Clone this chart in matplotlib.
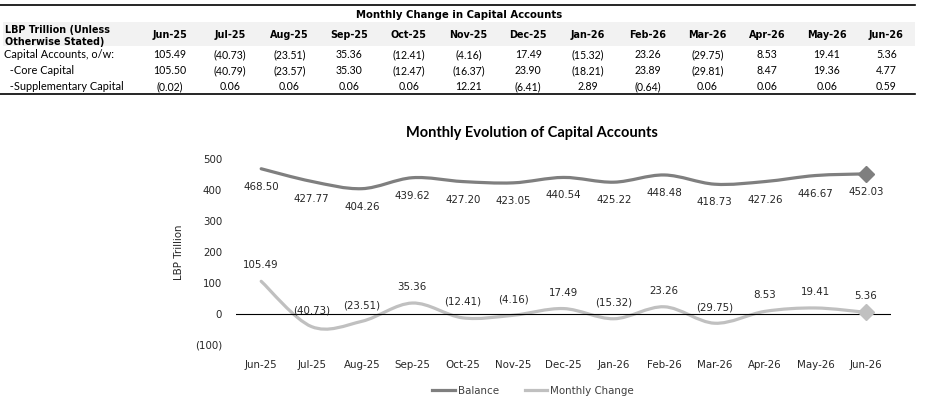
import matplotlib.pyplot as plt
import numpy as np
from matplotlib.path import Path
from matplotlib.patches import PathPatch, Rectangle
from matplotlib.lines import Line2D

months = ["Jun-25", "Jul-25", "Aug-25", "Sep-25", "Oct-25", "Nov-25", "Dec-25",
          "Jan-26", "Feb-26", "Mar-26", "Apr-26", "May-26", "Jun-26"]
balance = [468.50, 427.77, 404.26, 439.62, 427.20, 423.05, 440.54,
           425.22, 448.48, 418.73, 427.26, 446.67, 452.03]
monthly_change = [105.49, -40.73, -23.51, 35.36, -12.41, -4.16, 17.49,
                  -15.32, 23.26, -29.75, 8.53, 19.41, 5.36]
core_capital = [105.50, -40.79, -23.57, 35.30, -12.47, -16.37, 23.90,
                -18.21, 23.89, -29.81, 8.47, 19.36, 4.77]
supplementary = [-0.02, 0.06, 0.06, 0.06, 0.06, 12.21, -6.41,
                 2.89, -0.64, 0.06, 0.06, 0.06, 0.59]

DARK = "#7f7f7f"
LIGHT = "#c0c0c0"
BODY = "Lato"
HEAD = "DejaVu Sans"


def fmt(v):
    return f"({abs(v):.2f})" if v < 0 else f"{v:.2f}"


def smooth_path(xs, ys):
    # excel-style smoothed line: catmull-rom turned into cubic bezier segments
    pts = np.column_stack([xs, ys])
    ext = np.vstack([pts[0], pts, pts[-1]])
    verts = [tuple(pts[0])]
    codes = [Path.MOVETO]
    for i in range(len(pts) - 1):
        p0, p1, p2, p3 = ext[i], ext[i + 1], ext[i + 2], ext[i + 3]
        c1 = p1 + (p2 - p0) / 6
        c2 = p2 - (p3 - p1) / 6
        verts += [tuple(c1), tuple(c2), tuple(p2)]
        codes += [Path.CURVE4] * 3
    return Path(verts, codes)


fig = plt.figure(figsize=(9.4, 4.08), dpi=100)
W, H = 940, 408


def fx(px):
    return px / W


def fy(py):
    return 1 - py / H


# ---- table ----
fig.add_artist(Line2D([fx(0), fx(915)], [fy(5), fy(5)], color="black", lw=1.2))
fig.add_artist(Rectangle((fx(3), fy(46)), fx(912), 24 / H, color="#f2f2f2", lw=0, zorder=0))
fig.text(fx(459), fy(15), "Monthly Change in Capital Accounts", ha="center", va="center",
         fontsize=7.3, fontweight="bold", family=HEAD)
fig.text(fx(5), fy(30), "LBP Trillion (Unless", ha="left", va="center",
         fontsize=6.9, fontweight="bold", family=HEAD)
fig.text(fx(5), fy(42), "Otherwise Stated)", ha="left", va="center",
         fontsize=6.9, fontweight="bold", family=HEAD)

col_x = [170 + i * 59.7 for i in range(len(months))]
for cx, m in zip(col_x, months):
    fig.text(fx(cx), fy(35), m, ha="center", va="center",
             fontsize=6.9, fontweight="bold", family=HEAD)

rows = [("Capital Accounts, o/w:", 4, monthly_change, 55),
        ("  -Core Capital", 4, core_capital, 71),
        ("  -Supplementary Capital", 4, supplementary, 87)]
for label, lx, vals, ry in rows:
    fig.text(fx(lx), fy(ry), label, ha="left", va="center", fontsize=7.9, family=BODY)
    for cx, v in zip(col_x, vals):
        fig.text(fx(cx), fy(ry), fmt(v), ha="center", va="center", fontsize=7.6, family=BODY)
fig.add_artist(Line2D([fx(0), fx(915)], [fy(94), fy(94)], color="black", lw=1.2))

# ---- chart ----
ax = fig.add_axes([fx(236), fy(345), (891 - 236) / W, (345 - 159) / H])
x = np.arange(len(months))
ax.set_xlim(-0.5, len(months) - 0.5)
ax.set_ylim(-100, 500)

ax.add_patch(PathPatch(smooth_path(x, balance), fill=False, edgecolor=DARK, lw=2.3,
                       capstyle="round", joinstyle="round"))
ax.add_patch(PathPatch(smooth_path(x, monthly_change), fill=False, edgecolor=LIGHT, lw=2.3,
                       capstyle="round", joinstyle="round"))
ax.plot(x[-1], balance[-1], marker="D", ms=8, color=DARK, zorder=5)
ax.plot(x[-1], monthly_change[-1], marker="D", ms=8, color=LIGHT, zorder=5)
ax.axhline(0, color="black", lw=0.8, zorder=1)

for xi, v in zip(x, balance):
    ax.annotate(fmt(v), (xi, v), xytext=(0, -13), textcoords="offset points",
                ha="center", va="center", fontsize=7.4, family=HEAD, color="#262626")
for xi, v in zip(x, monthly_change):
    ax.annotate(fmt(v), (xi, v), xytext=(0, 11.5), textcoords="offset points",
                ha="center", va="center", fontsize=7.4, family=HEAD, color="#262626")

for s in ax.spines.values():
    s.set_visible(False)
ax.set_xticks(x)
ax.set_xticklabels(months, fontsize=7.4, family=HEAD, color="#262626")
ax.set_yticks([-100, 0, 100, 200, 300, 400, 500])
ax.set_yticklabels([fmt(t).replace(".00", "") for t in [-100, 0, 100, 200, 300, 400, 500]],
                   fontsize=7.4, family=HEAD, color="#262626")
ax.tick_params(length=0)
ax.tick_params(axis="x", pad=11)
ax.tick_params(axis="y", pad=10)
ax.set_ylabel("LBP Trillion", fontsize=7.4, family=HEAD, color="#262626", labelpad=8)

fig.text(fx(532), fy(133), "Monthly Evolution of Capital Accounts", ha="center", va="center",
         fontsize=10.5, fontweight="bold", family=BODY)

handles = [Line2D([], [], color=DARK, lw=2.3), Line2D([], [], color=LIGHT, lw=2.3)]
fig.legend(handles, ["Balance", "Monthly Change"], loc="center", bbox_to_anchor=(fx(533), fy(391)),
           ncol=2, frameon=False, handlelength=2.2, handletextpad=0.3, columnspacing=2.5,
           prop={"family": HEAD, "size": 7.4}, labelcolor="#404040")

fig.savefig("out.png", dpi=100)
